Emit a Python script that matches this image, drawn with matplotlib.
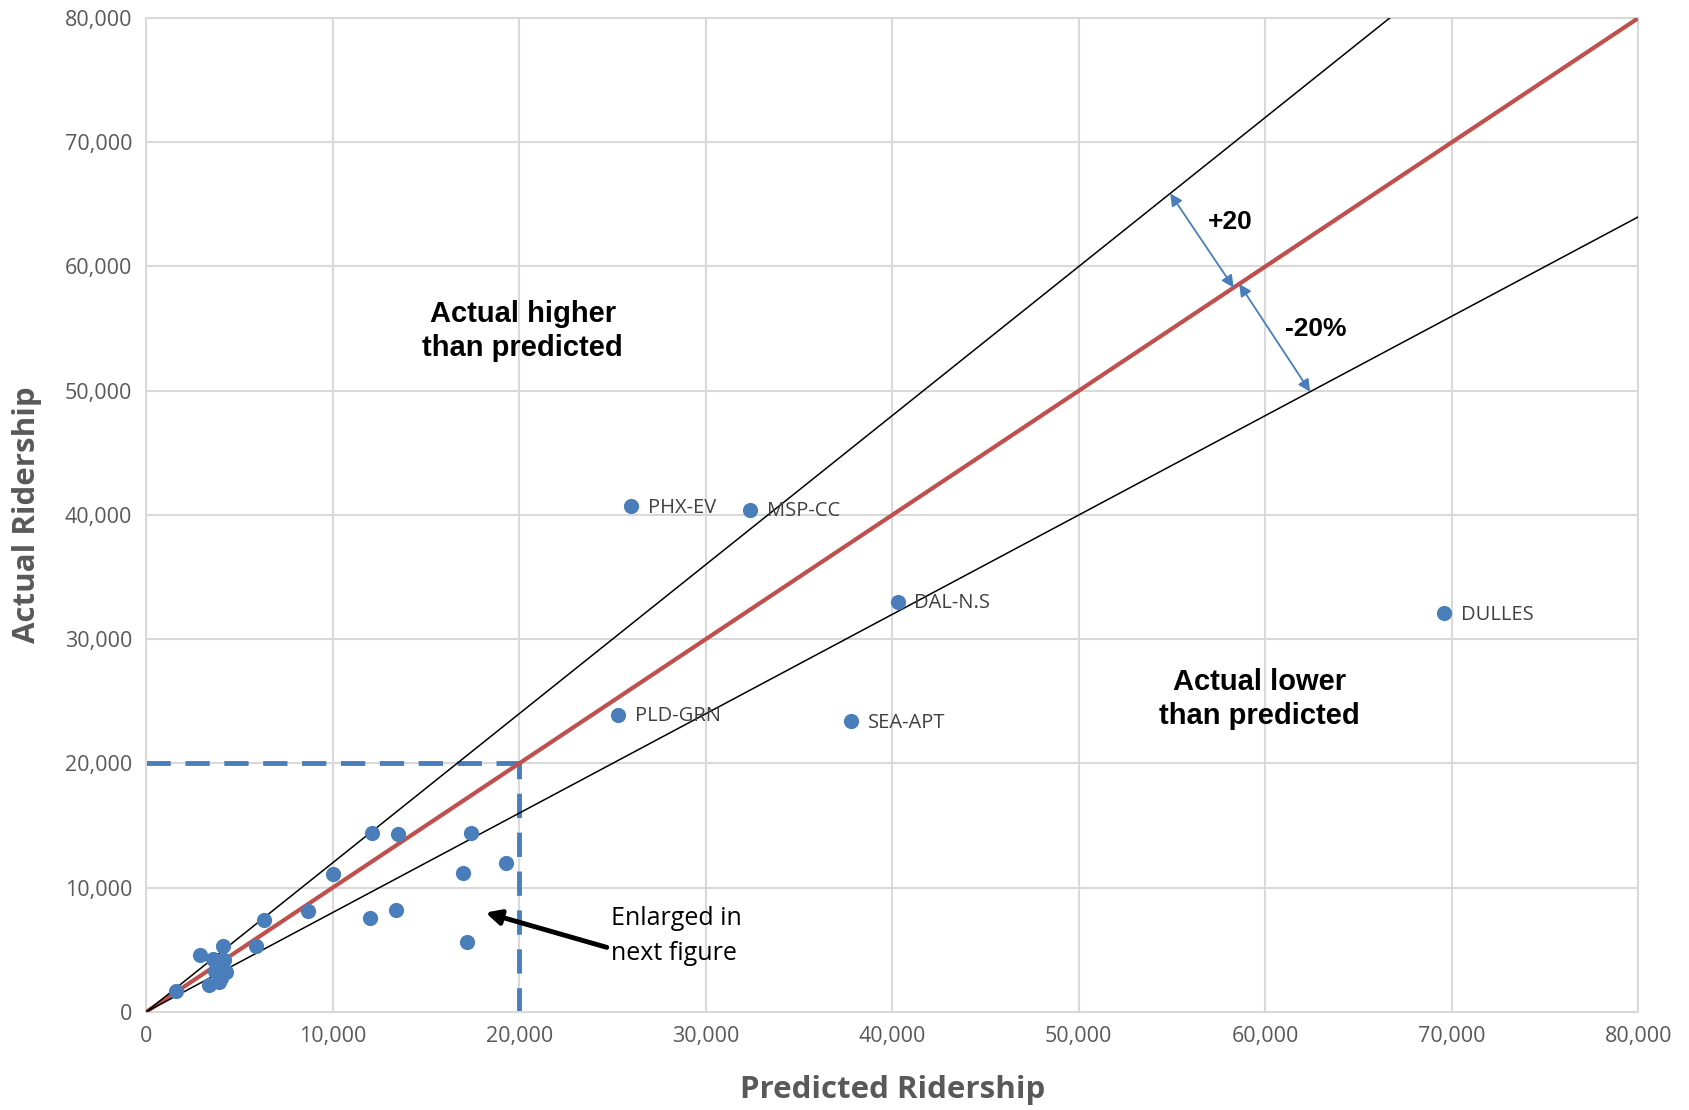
import matplotlib.pyplot as plt
import numpy as np

# station values (predicted, actual)
labeled_names = ["PHX-EV", "MSP-CC", "DAL-N.S", "DULLES", "PLD-GRN", "SEA-APT"]
labeled_pred = [26000, 32400, 40300, 69600, 25300, 37800]
labeled_act = [40700, 40400, 33000, 32100, 23900, 23400]

small_pred = [12100, 13500, 17400, 10000, 19300, 17000, 6300, 8700, 12000, 13400,
              17200, 5900, 4100, 2900, 3600, 4200, 3700, 4300, 3400, 3900, 1600,
              3800, 4000]
small_act = [14400, 14300, 14400, 11100, 12000, 11200, 7400, 8100, 7600, 8200,
             5600, 5300, 5300, 4600, 4300, 4200, 3300, 3200, 2200, 2400, 1700,
             3700, 2700]

axis_max = 80000
band = 0.20
zoom_limit = 20000

blue = "#4A7EBB"
red = "#C0504D"
gray_txt = "#595959"

plt.rcParams["font.family"] = ["Open Sans", "DejaVu Sans"]

fig = plt.figure(figsize=(16.9, 11.1), dpi=100)
ax = fig.add_axes([0.0864, 0.0883, 0.8831, 0.8955])

ax.set_xlim(0, axis_max)
ax.set_ylim(0, axis_max)
ticks = np.arange(0, axis_max + 1, 10000)
ax.set_xticks(ticks)
ax.set_yticks(ticks)
ax.set_xticklabels([f"{t:,}" for t in ticks])
ax.set_yticklabels([f"{t:,}" for t in ticks])
ax.grid(True, color="#D9D9D9", linewidth=1.5, zorder=0)
for side in ["top", "right", "left", "bottom"]:
    ax.spines[side].set_color("#D9D9D9")
    ax.spines[side].set_linewidth(1.5)
ax.tick_params(length=0, labelsize=15.5, labelcolor=gray_txt, pad=10)

# reference lines
xs = np.array([0, axis_max])
ax.plot(xs, xs, color=red, linewidth=3, zorder=3)
ax.plot(xs, xs * (1 + band), color="black", linewidth=1.1, zorder=3)
ax.plot(xs, xs * (1 - band), color="black", linewidth=1.1, zorder=3)

# zoom box
ax.plot([0, zoom_limit], [zoom_limit, zoom_limit], color=blue, linewidth=3.5,
        dashes=(5, 3), zorder=2)
ax.plot([zoom_limit, zoom_limit], [0, zoom_limit], color=blue, linewidth=3.5,
        dashes=(5, 3), zorder=2)

# points
ax.scatter(small_pred, small_act, s=120, color=blue, zorder=4, linewidths=0)
ax.scatter(labeled_pred, labeled_act, s=120, color=blue, zorder=4, linewidths=0)
for name, px, py in zip(labeled_names, labeled_pred, labeled_act):
    ax.annotate(name, (px, py), xytext=(12, -1), textcoords="offset points",
                va="center", ha="left", fontsize=14.5, color="#404040", zorder=5)

# band arrows
arrow_kw = dict(arrowstyle="<|-|>", color=blue, lw=1.3, mutation_scale=18,
                shrinkA=0, shrinkB=0)
ax.annotate("", xy=(54900, 54900 * (1 + band)), xytext=(58300, 58300),
            arrowprops=arrow_kw, zorder=5)
ax.annotate("", xy=(58600, 58600), xytext=(62400, 62400 * (1 - band)),
            arrowprops=arrow_kw, zorder=5)

bold_kw = dict(family=["Liberation Sans", "DejaVu Sans"], fontweight="bold",
               color="black", ha="center", va="center")
ax.text(58100, 63600, "+20", fontsize=19, **bold_kw)
ax.text(62700, 55000, "-20%", fontsize=19, **bold_kw)
ax.text(20200, 54800, "Actual higher\nthan predicted", fontsize=21,
        linespacing=1.27, **bold_kw)
ax.text(59700, 25200, "Actual lower\nthan predicted", fontsize=21,
        linespacing=1.27, **bold_kw)

# enlarged note
ax.text(24900, 6100, "Enlarged in\nnext figure", ha="left", va="center",
        fontsize=18, color="black", linespacing=1.55, zorder=5)
ax.annotate("", xy=(18200, 8000), xytext=(24700, 5200),
            arrowprops=dict(arrowstyle="-|>", color="black", lw=3.5,
                            mutation_scale=22, shrinkA=0, shrinkB=0),
            zorder=5)

ax.set_xlabel("Predicted Ridership", fontsize=22.5, fontweight="bold",
              color=gray_txt, labelpad=20)
ax.set_ylabel("Actual Ridership", fontsize=22.5, fontweight="bold",
              color=gray_txt, labelpad=16)

fig.savefig("out.png", dpi=100)
